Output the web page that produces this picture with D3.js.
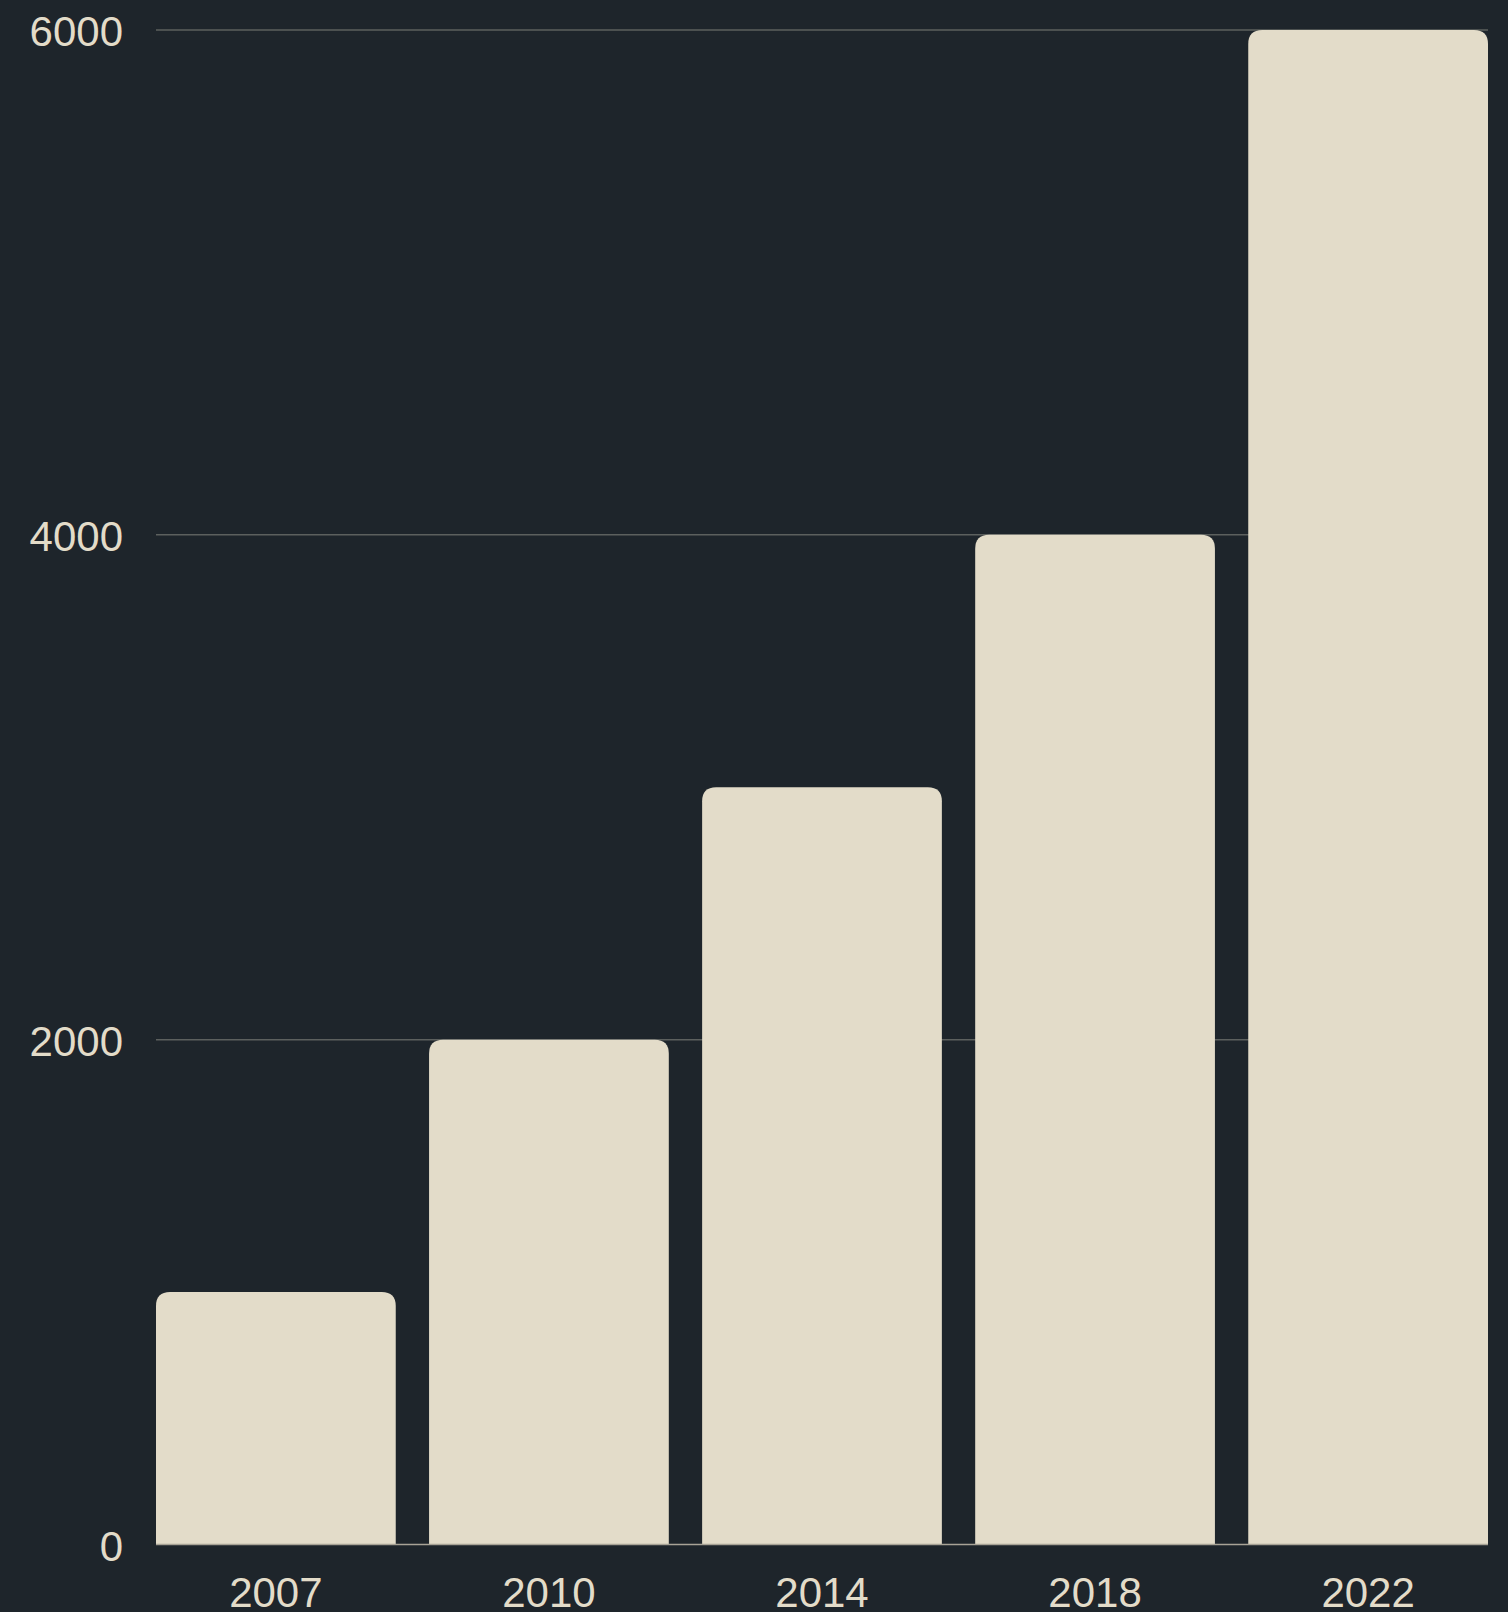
<!DOCTYPE html>
<html>
<head>
<meta charset="utf-8">
<script src="https://cdn.jsdelivr.net/npm/d3@7"></script>
<style>
  html, body { margin: 0; padding: 0; background: #1e252b; }
  #container { width: 1508px; height: 1612px; }
</style>
</head>
<body>
<div id="container"></div>
<script>
// chart data
const years = ["2007", "2010", "2014", "2018", "2022"];
const values = [1000, 2000, 3000, 4000, 6000];
const yTicks = [0, 2000, 4000, 6000];

const margin = {left: 156, right: 20, top: 30, bottom: 67.5};
const width = 1508 - margin.left - margin.right;
const height = 1612 - margin.top - margin.bottom;

const bg = "#1e252b";
const ink = "#e3dcc9";

const x = d3.scaleBand()
    .domain(years)
    .range([0, width])
    .paddingInner(0.122)
    .paddingOuter(0);

const y = d3.scaleLinear()
    .domain([0, 6000])
    .range([height, 0]);

const svg = d3.select("#container")
    .append("svg")
    .attr("width", 1508)
    .attr("height", 1612)
    .style("background", bg)
    .style("font-family", "'Liberation Sans', Arial, sans-serif");

const g = svg.append("g")
    .attr("transform", `translate(${margin.left},${margin.top})`);

// gridlines
g.append("g")
    .selectAll("line")
    .data(yTicks.filter(d => d > 0))
    .join("line")
    .attr("x1", 0)
    .attr("x2", width)
    .attr("y1", d => y(d))
    .attr("y2", d => y(d))
    .attr("stroke", "#5c605e")
    .attr("stroke-width", 1.5);

// y axis labels
const yAxis = g.append("g")
    .call(d3.axisLeft(y).tickValues(yTicks).tickSize(0).tickPadding(33).tickFormat(d3.format("d")));
yAxis.select(".domain").remove();
yAxis.selectAll("text")
    .attr("dy", "0.37em")
    .attr("fill", ink)
    .attr("font-size", 42)
    .attr("font-family", "'Liberation Sans', Arial, sans-serif");

// bars with rounded top corners
const r = 14;
function barPath(d) {
    const x0 = x(d.year), w = x.bandwidth();
    const y0 = y(d.value), y1 = y(0);
    return `M${x0},${y1}V${y0 + r}Q${x0},${y0} ${x0 + r},${y0}H${x0 + w - r}Q${x0 + w},${y0} ${x0 + w},${y0 + r}V${y1}Z`;
}

g.append("g")
    .selectAll("path")
    .data(years.map((year, i) => ({year, value: values[i]})))
    .join("path")
    .attr("d", barPath)
    .attr("fill", ink);

// baseline
g.append("line")
    .attr("x1", 0)
    .attr("x2", width)
    .attr("y1", y(0))
    .attr("y2", y(0))
    .attr("stroke", "#a8a396")
    .attr("stroke-width", 1.5);

// x axis labels
const xAxis = g.append("g")
    .attr("transform", `translate(0,${height})`)
    .call(d3.axisBottom(x).tickSize(0).tickPadding(33));
xAxis.select(".domain").remove();
xAxis.selectAll("text")
    .attr("fill", ink)
    .attr("font-size", 42)
    .attr("font-family", "'Liberation Sans', Arial, sans-serif");
</script>
</body>
</html>
